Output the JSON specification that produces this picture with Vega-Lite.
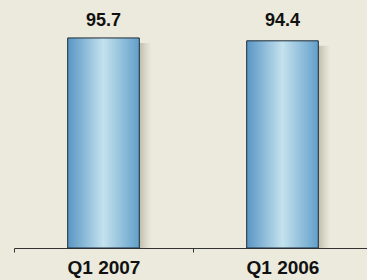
{
  "$schema": "https://vega.github.io/schema/vega-lite/v6.json",
  "autosize": {"type": "none"},
  "width": 353,
  "height": 248,
  "padding": {"left": 14, "top": 0, "right": 0, "bottom": 32},
  "background": "#EBEADC",
  "config": {"view": {"stroke": null}, "font": "Liberation Sans"},
  "data": {"values": [
    {"period": "Q1 2007", "value": 95.7},
    {"period": "Q1 2006", "value": 94.4}
  ]},
  "encoding": {
    "x": {"field": "period", "type": "nominal", "sort": null,
      "scale": {"range": [0, 358], "paddingInner": 0, "paddingOuter": 0},
      "axis": {"title": null, "labelAngle": 0, "labelFont": "Liberation Sans", "labelFontWeight": "bold", "labelFontSize": 19, "labelColor": "#111111", "labelPadding": 6, "tickBand": "extent", "tickSize": 4, "tickColor": "#333333", "domainColor": "#333333", "domainWidth": 1, "tickWidth": 1}}
  },
  "layer": [
    {
      "mark": {"type": "bar", "width": {"band": 0.4}, "xOffset": 12, "yOffset": 5, "y2Offset": 0,
        "color": {"gradient": "linear", "x1": 0, "x2": 1, "y1": 0, "y2": 0,
          "stops": [
            {"offset": 0, "color": "rgba(90,80,60,0.3)"},
            {"offset": 0.83, "color": "rgba(90,80,60,0.3)"},
            {"offset": 0.92, "color": "rgba(90,80,60,0.12)"},
            {"offset": 1, "color": "rgba(90,80,60,0)"}
          ]}},
      "encoding": {
        "y": {"field": "value", "type": "quantitative", "scale": {"domain": [0, 113], "nice": false, "zero": true}, "axis": null},
        "y2": {"datum": 0}
      }
    },
    {
      "mark": {"type": "bar", "width": {"band": 0.4}, "stroke": "#1c2a36", "strokeWidth": 1,
        "color": {"gradient": "linear", "x1": 0, "x2": 1, "y1": 0, "y2": 0,
          "stops": [
            {"offset": 0, "color": "#5996c4"},
            {"offset": 0.5, "color": "#c4e2ee"},
            {"offset": 1, "color": "#629fca"}
          ]}},
      "encoding": {
        "y": {"field": "value", "type": "quantitative", "scale": {"domain": [0, 113], "nice": false, "zero": true}, "axis": null}
      }
    },
    {
      "mark": {"type": "text", "font": "Liberation Sans", "fontWeight": "bold", "fontSize": 18, "color": "#111111", "baseline": "alphabetic"},
      "encoding": {
        "y": {"datum": 101, "type": "quantitative"},
        "text": {"field": "value", "type": "quantitative", "format": ".1f"}
      }
    }
  ]
}
